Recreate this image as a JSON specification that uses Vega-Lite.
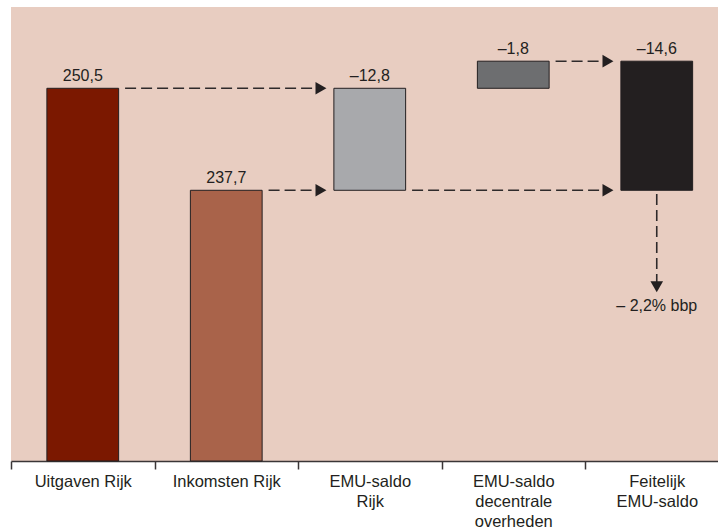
{
  "$schema": "https://vega.github.io/schema/vega-lite/v6.json",
  "autosize": "none",
  "width": 707,
  "height": 454,
  "padding": {"left": 11, "top": 7, "right": 0, "bottom": 67},
  "background": "white",
  "config": {
    "view": {"fill": "#e8cdc1", "stroke": null},
    "font": "Liberation Sans",
    "axis": {"labelFont": "Liberation Sans"}
  },
  "datasets": {
    "bars": [
      {"cat": "Uitgaven Rijk", "lo": 0, "hi": 250.5, "label": "250,5"},
      {"cat": "Inkomsten Rijk", "lo": 0, "hi": 237.7, "label": "237,7"},
      {"cat": "EMU-saldo Rijk", "lo": 237.7, "hi": 250.5, "label": "–12,8"},
      {"cat": "EMU-saldo decentrale overheden", "lo": 250.5, "hi": 253.9, "label": "–1,8"},
      {"cat": "Feitelijk EMU-saldo", "lo": 237.7, "hi": 253.9, "label": "–14,6"}
    ],
    "arrows": [
      {"from": "Uitgaven Rijk", "to": "EMU-saldo Rijk", "level": 250.5},
      {"from": "Inkomsten Rijk", "to": "EMU-saldo Rijk", "level": 237.7},
      {"from": "EMU-saldo Rijk", "to": "Feitelijk EMU-saldo", "level": 237.7},
      {"from": "EMU-saldo decentrale overheden", "to": "Feitelijk EMU-saldo", "level": 253.9}
    ],
    "down": [
      {"cat": "Feitelijk EMU-saldo", "start": 237.25, "end": 225.6, "head": 225.6, "textpos": 222.5, "label": "– 2,2% bbp"}
    ]
  },
  "layer": [
    {
      "data": {"name": "bars"},
      "mark": {"type": "bar", "width": {"band": 0.5}, "stroke": "#231f20", "strokeWidth": 1},
      "encoding": {
        "x": {
          "field": "cat", "type": "nominal", "sort": null,
          "scale": {
            "domain": ["Uitgaven Rijk", "Inkomsten Rijk", "EMU-saldo Rijk", "EMU-saldo decentrale overheden", "Feitelijk EMU-saldo"],
            "range": [0, 717.5],
            "paddingInner": 0, "paddingOuter": 0
          },
          "axis": {
            "title": null,
            "labelAngle": 0,
            "tickBand": "extent",
            "labelExpr": "indexof(datum.label, 'EMU') >= 0 ? split(datum.label, ' ') : datum.label",
            "labelFontSize": 16.5,
            "labelColor": "#231f20",
            "labelPadding": 4,
            "labelLineHeight": 20,
            "tickSize": 8,
            "tickColor": "#3a3637",
            "tickWidth": 1.5,
            "domainColor": "#3a3637",
            "domainWidth": 1.5,
            "grid": false
          }
        },
        "y": {
          "field": "lo", "type": "quantitative",
          "scale": {"domain": [203.73, 260.7], "zero": false, "clamp": true, "nice": false},
          "axis": null
        },
        "y2": {"field": "hi"},
        "color": {
          "field": "cat", "type": "nominal", "legend": null,
          "scale": {
            "domain": ["Uitgaven Rijk", "Inkomsten Rijk", "EMU-saldo Rijk", "EMU-saldo decentrale overheden", "Feitelijk EMU-saldo"],
            "range": ["#7b1800", "#a9634a", "#a8a9ac", "#6d6e70", "#231f20"]
          }
        }
      }
    },
    {
      "data": {"name": "bars"},
      "mark": {"type": "text", "baseline": "alphabetic", "dy": -7, "fontSize": 16, "color": "#231f20"},
      "encoding": {
        "x": {"field": "cat", "type": "nominal", "sort": null},
        "y": {"field": "hi", "type": "quantitative"},
        "text": {"field": "label"}
      }
    },
    {
      "data": {"name": "arrows"},
      "mark": {"type": "rule", "strokeDash": [11, 5], "strokeWidth": 1.6, "color": "#2e2a2b"},
      "encoding": {
        "x": {"field": "from", "type": "nominal", "sort": null, "bandPosition": 0.795},
        "x2": {"field": "to", "bandPosition": 0.16},
        "y": {"field": "level", "type": "quantitative"}
      }
    },
    {
      "data": {"name": "arrows"},
      "mark": {"type": "point", "shape": "triangle-right", "filled": true, "size": 160, "color": "#231f20", "opacity": 1},
      "encoding": {
        "x": {"field": "to", "type": "nominal", "sort": null, "bandPosition": 0.16},
        "y": {"field": "level", "type": "quantitative"}
      }
    },
    {
      "data": {"name": "down"},
      "mark": {"type": "rule", "strokeDash": [11, 5], "strokeWidth": 1.6, "color": "#2e2a2b"},
      "encoding": {
        "x": {"field": "cat", "type": "nominal", "sort": null},
        "y": {"field": "start", "type": "quantitative"},
        "y2": {"field": "end"}
      }
    },
    {
      "data": {"name": "down"},
      "mark": {"type": "point", "shape": "triangle-down", "filled": true, "size": 160, "color": "#231f20", "opacity": 1},
      "encoding": {
        "x": {"field": "cat", "type": "nominal", "sort": null},
        "y": {"field": "head", "type": "quantitative"}
      }
    },
    {
      "data": {"name": "down"},
      "mark": {"type": "text", "baseline": "alphabetic", "fontSize": 16, "color": "#231f20"},
      "encoding": {
        "x": {"field": "cat", "type": "nominal", "sort": null},
        "y": {"field": "textpos", "type": "quantitative"},
        "text": {"field": "label"}
      }
    }
  ]
}
